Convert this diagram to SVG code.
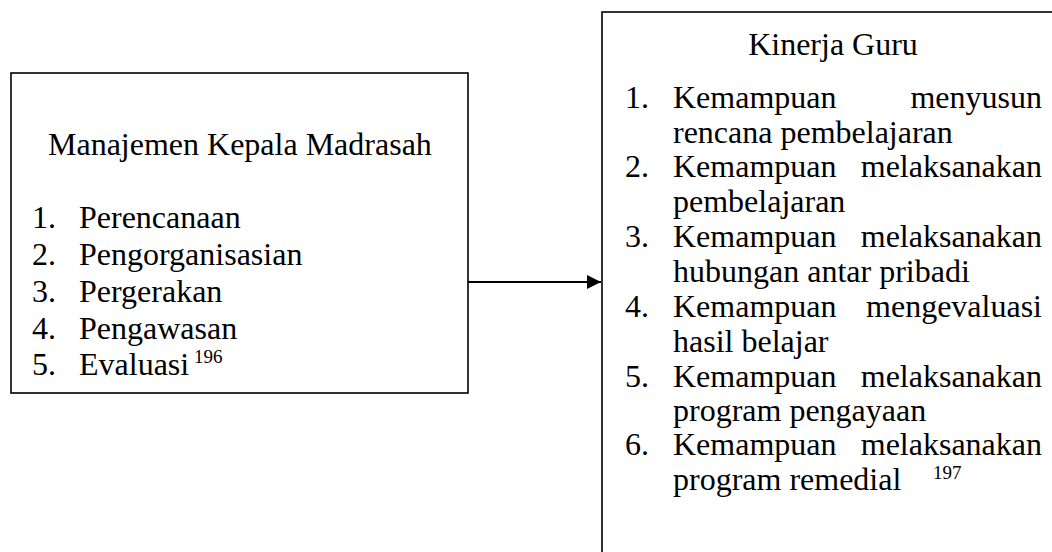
<svg xmlns="http://www.w3.org/2000/svg" width="1052" height="552" viewBox="0 0 1052 552">
<style>
.box{fill:#fff;stroke:#000;stroke-width:1.6}
.t{font-family:"Liberation Serif","Times New Roman",serif;font-size:32px;fill:#000}
.sup{font-family:"Liberation Serif","Times New Roman",serif;font-size:19px;fill:#000}
.e{text-anchor:end}
.m{text-anchor:middle}
</style>
<defs>
<marker id="ah" viewBox="0 0 10 10" refX="10" refY="5" markerWidth="14" markerHeight="14" markerUnits="userSpaceOnUse" orient="auto">
<path d="M0,0 L10,5 L0,10 z" fill="#000"/>
</marker>
</defs>
<rect width="1052" height="552" fill="#fff"/>
<g id="connectors">
<line x1="468" y1="282" x2="601" y2="282" stroke="#000" stroke-width="2" marker-end="url(#ah)"/>
</g>
<g id="manajemen">
<rect class="box" x="11" y="73" width="457" height="320"/>
<text class="t" x="48" y="155">Manajemen Kepala Madrasah</text>
<text class="t" x="32" y="228">1.</text><text class="t" x="79" y="228">Perencanaan</text>
<text class="t" x="32" y="265">2.</text><text class="t" x="79" y="265">Pengorganisasian</text>
<text class="t" x="32" y="302">3.</text><text class="t" x="79" y="302">Pergerakan</text>
<text class="t" x="32" y="339">4.</text><text class="t" x="79" y="339">Pengawasan</text>
<text class="t" x="32" y="375">5.</text><text class="t" x="79" y="375">Evaluasi</text>
<text class="sup" x="194" y="363">196</text>
</g>
<g id="kinerja">
<rect class="box" x="602" y="12" width="470" height="560"/>
<text class="t m" x="833" y="55">Kinerja Guru</text>
<text class="t" x="625" y="108">1.</text><text class="t" x="673" y="108">Kemampuan</text><text class="t e" x="1042" y="108">menyusun</text>
<text class="t" x="673" y="143">rencana pembelajaran</text>
<text class="t" x="625" y="177">2.</text><text class="t" x="673" y="177">Kemampuan</text><text class="t e" x="1042" y="177">melaksanakan</text>
<text class="t" x="673" y="212">pembelajaran</text>
<text class="t" x="625" y="247">3.</text><text class="t" x="673" y="247">Kemampuan</text><text class="t e" x="1042" y="247">melaksanakan</text>
<text class="t" x="673" y="282">hubungan antar pribadi</text>
<text class="t" x="625" y="317">4.</text><text class="t" x="673" y="317">Kemampuan</text><text class="t e" x="1042" y="317">mengevaluasi</text>
<text class="t" x="673" y="352">hasil belajar</text>
<text class="t" x="625" y="387">5.</text><text class="t" x="673" y="387">Kemampuan</text><text class="t e" x="1042" y="387">melaksanakan</text>
<text class="t" x="673" y="421">program pengayaan</text>
<text class="t" x="625" y="455">6.</text><text class="t" x="673" y="455">Kemampuan</text><text class="t e" x="1042" y="455">melaksanakan</text>
<text class="t" x="673" y="490">program remedial</text>
<text class="sup" x="933" y="479">197</text>
</g>
</svg>
